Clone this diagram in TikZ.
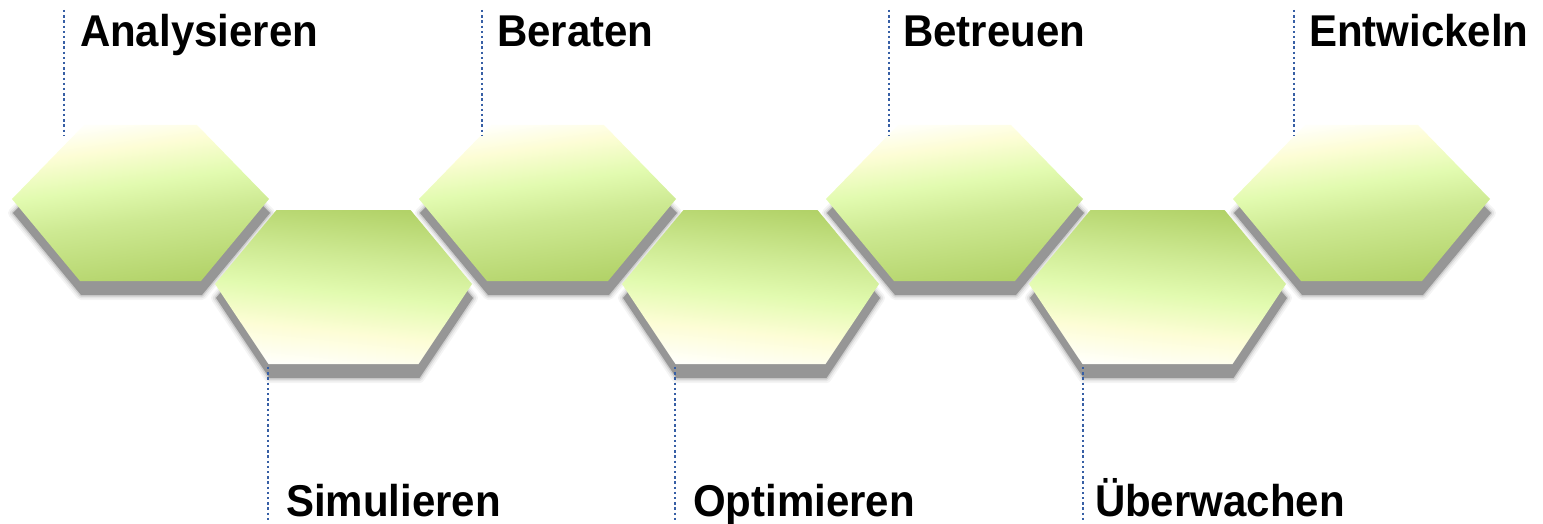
\documentclass[tikz,border=0pt]{standalone}
\usepackage{fontspec}
\setmainfont{Liberation Sans}
\definecolor{gB}{RGB}{178,210,104}
\definecolor{gM}{RGB}{205,233,146}
\definecolor{gL}{RGB}{226,251,176}
\definecolor{gY}{RGB}{253,253,214}
\definecolor{gW}{RGB}{255,255,250}
\definecolor{shd}{RGB}{150,150,150}
\definecolor{dotblue}{RGB}{55,95,165}
\pgfdeclareverticalshading{upshade}{100bp}{color(0bp)=(gB); color(25bp)=(gB); color(45bp)=(gM); color(56bp)=(gL); color(67bp)=(gY); color(75bp)=(gW); color(100bp)=(gW)}
\pgfdeclareverticalshading{downshade}{100bp}{color(0bp)=(gW); color(25bp)=(gW); color(36bp)=(gY); color(48bp)=(gL); color(60bp)=(gM); color(75bp)=(gB); color(100bp)=(gB)}
\newcommand\hexTop[1]{(#1-128.5,199) -- (#1-56.5,125) -- (#1+56.5,125) -- (#1+128.5,199) -- (#1+60.5,281) -- (#1-60.5,281) -- cycle}
\newcommand\hexBot[1]{(#1-128.5,284) -- (#1-67,210) -- (#1+67,210) -- (#1+128.5,284) -- (#1+75,364) -- (#1-75,364) -- cycle}
\newcommand\tallbox[1]{\scalebox{1}[1.06]{#1}}
\tikzset{
  lbl/.style={inner sep=0pt, outer sep=0pt, font=\fontsize{42}{50}\selectfont\bfseries, text=black},
  dotline/.style={dotblue, line width=2.4pt, dash pattern=on 2.4pt off 2.8pt},
  shdA/.style={draw=shd, line width=10pt, draw opacity=0.10, line join=round},
  shdB/.style={draw=shd, line width=6.5pt, draw opacity=0.16, line join=round},
  shdC/.style={draw=shd, line width=3pt, draw opacity=0.3, line join=round},
  shdD/.style={fill=shd},
}
\begin{document}
\begin{tikzpicture}[x=1pt,y=-1pt]
\useasboundingbox (0,0) rectangle (1543,524);
% shadows
\begin{scope}[shift={(1,14)}]
\foreach \c in {140.5,547.5,954.5,1361.5}{
  \draw[shdA] \hexTop{\c};
  \draw[shdB] \hexTop{\c};
  \draw[shdC] \hexTop{\c};
  \fill[shdD] \hexTop{\c};
}
\foreach \c in {343.5,750.5,1157.5}{
  \draw[shdA] \hexBot{\c};
  \draw[shdB] \hexBot{\c};
  \draw[shdC] \hexBot{\c};
  \fill[shdD] \hexBot{\c};
}
\end{scope}
% hexagons
\foreach \c in {140.5,547.5,954.5,1361.5}{
  \shade[shading=upshade, shading angle=8] \hexTop{\c};
}
\foreach \c in {343.5,750.5,1157.5}{
  \shade[shading=downshade, shading angle=-6] \hexBot{\c};
}
% dotted leader lines
\coordinate (l1a) at (64,10);   \coordinate (l1b) at (64,136);
\coordinate (l3a) at (482,10);  \coordinate (l3b) at (482,136);
\coordinate (l5a) at (889,10);  \coordinate (l5b) at (889,136);
\coordinate (l7a) at (1294,10); \coordinate (l7b) at (1294,136);
\coordinate (l2a) at (268,367); \coordinate (l2b) at (268,522);
\coordinate (l4a) at (675,367); \coordinate (l4b) at (675,522);
\coordinate (l6a) at (1083,367); \coordinate (l6b) at (1083,522);
\foreach \i in {1,...,7}{ \draw[dotline] (l\i a) -- (l\i b); }
% labels
\node[lbl, anchor=base west] (analysieren) at (80,47) {\tallbox{Analysieren}};
\node[lbl, anchor=base west] (beraten) at (497,47) {\tallbox{Beraten}};
\node[lbl, anchor=base west] (betreuen) at (903,47) {\tallbox{Betreuen}};
\node[lbl, anchor=base west] (entwickeln) at (1309,47) {\tallbox{Entwickeln}};
\node[lbl, anchor=base west] (simulieren) at (286,516) {\tallbox{Simulieren}};
\node[lbl, anchor=base west] (optimieren) at (693,516) {\tallbox{Optimieren}};
\node[lbl, anchor=base west] (ueberwachen) at (1095,516) {\tallbox{Überwachen}};
\end{tikzpicture}
\end{document}
